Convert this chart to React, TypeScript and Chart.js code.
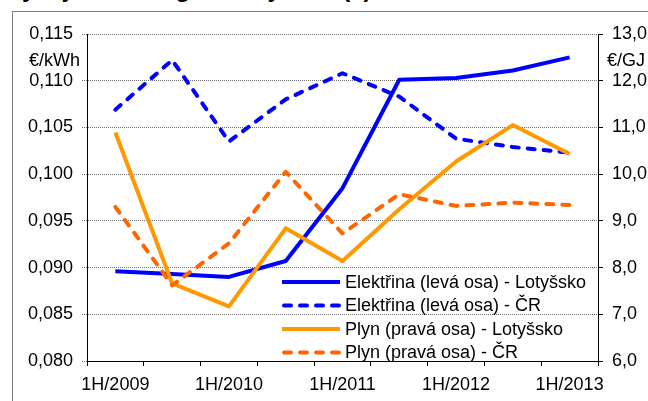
import React, { useEffect, useRef } from 'react';
import { Chart, registerables } from 'chart.js';

Chart.register(...registerables);

const categories = ['1H/2009', '2H/2009', '1H/2010', '2H/2010', '1H/2011', '2H/2011', '1H/2012', '2H/2012', '1H/2013'];
const elektrinaLotyssko = [0.0896, 0.0893, 0.0890, 0.0907, 0.0985, 0.1101, 0.1103, 0.1111, 0.1125];
const elektrinaCR = [0.1069, 0.1122, 0.1035, 0.1080, 0.1108, 0.1083, 0.1038, 0.1029, 0.1023];
const plynLotyssko = [10.89, 7.66, 7.17, 8.84, 8.14, 9.25, 10.27, 11.05, 10.43];
const plynCR = [9.30, 7.62, 8.52, 10.05, 8.73, 9.57, 9.32, 9.39, 9.34];

const seriesLabels = [
  'Elektřina (levá osa) - Lotyšsko',
  'Elektřina (levá osa) - ČR',
  'Plyn (pravá osa) - Lotyšsko',
  'Plyn (pravá osa) - ČR',
];
const seriesColors = ['#0000FF', '#0000FF', '#FF9900', '#FF6600'];
const seriesDashed = [false, true, false, true];

const title = 'Vývoj cen energií v Lotyšsku (€)';
const leftUnit = '€/kWh';
const rightUnit = '€/GJ';

const FONT = '"Liberation Sans", Arial, Helvetica, sans-serif';
const DASH = [7, 9];

const overlayPlugin = {
  id: 'overlay',
  afterDraw(chart: any) {
    const { ctx, chartArea } = chart;
    ctx.save();
    ctx.font = `18px ${FONT}`;
    ctx.fillStyle = '#000';
    ctx.textBaseline = 'middle';
    ctx.textAlign = 'right';
    ctx.fillText(leftUnit, chartArea.left - 7, chartArea.top + 27);
    ctx.textAlign = 'left';
    ctx.fillText(rightUnit, chartArea.right + 9, chartArea.top + 27);
    const x0 = chartArea.left + 195;
    const y0 = chartArea.bottom - 79;
    seriesLabels.forEach((label, i) => {
      const y = y0 + i * 23.5;
      ctx.save();
      ctx.beginPath();
      ctx.strokeStyle = seriesColors[i];
      ctx.lineWidth = 4;
      ctx.lineCap = seriesDashed[i] ? 'round' : 'butt';
      ctx.setLineDash(seriesDashed[i] ? DASH : []);
      ctx.moveTo(x0 + (seriesDashed[i] ? 2 : 0), y);
      ctx.lineTo(x0 + 58, y);
      ctx.stroke();
      ctx.restore();
      ctx.fillStyle = '#000';
      ctx.textAlign = 'left';
      ctx.fillText(label, x0 + 63, y + 1);
    });
    ctx.restore();
  },
};

export default function App() {
  const canvasRef = useRef<HTMLCanvasElement | null>(null);

  useEffect(() => {
    const canvas = canvasRef.current;
    if (!canvas) return;
    const mk = (i: number, data: number[], axis: string) => ({
      label: seriesLabels[i],
      data,
      yAxisID: axis,
      borderColor: seriesColors[i],
      backgroundColor: seriesColors[i],
      borderWidth: 4,
      borderDash: seriesDashed[i] ? DASH : [],
      borderCapStyle: seriesDashed[i] ? 'round' : 'butt',
      borderJoinStyle: 'round',
      pointRadius: 0,
      pointHoverRadius: 0,
      tension: 0,
      fill: false,
    });
    const chart = new Chart(canvas, {
      type: 'line',
      data: {
        labels: categories,
        datasets: [
          mk(3, plynCR, 'y2'),
          mk(2, plynLotyssko, 'y2'),
          mk(1, elektrinaCR, 'y'),
          mk(0, elektrinaLotyssko, 'y'),
        ] as any,
      },
      options: {
        responsive: false,
        animation: false,
        events: [],
        layout: { padding: { top: 34, left: 0, right: 0, bottom: 0 } },
        plugins: {
          legend: { display: false },
          tooltip: { enabled: false },
          title: { display: false },
        },
        scales: {
          x: {
            type: 'category',
            offset: true,
            grid: {
              display: true,
              offset: true,
              drawOnChartArea: false,
              drawTicks: true,
              tickLength: 5,
              tickColor: '#000',
              color: '#000',
            },
            border: { display: true, color: '#000', width: 1 },
            ticks: {
              autoSkip: false,
              maxRotation: 0,
              minRotation: 0,
              padding: 8,
              color: '#000',
              font: { family: FONT, size: 18 },
              callback: (_v: any, i: number) => (i % 2 === 0 ? categories[i] : ''),
            },
            afterFit: (s: any) => { s.height = 40; },
          },
          y: {
            type: 'linear',
            position: 'left',
            min: 0.08,
            max: 0.115,
            grid: {
              color: '#6f6f6f',
              drawOnChartArea: true,
              drawTicks: true,
              tickLength: 5,
              tickColor: '#6f6f6f',
              tickBorderDash: [1, 1],
            },
            border: { display: true, color: '#000', width: 1, dash: [1, 1] },
            ticks: {
              stepSize: 0.005,
              padding: 9,
              color: '#000',
              font: { family: FONT, size: 18 },
              callback: (v: any) => Number(v).toFixed(3).replace('.', ','),
            },
            afterFit: (s: any) => { s.width = 87; },
          },
          y2: {
            type: 'linear',
            position: 'right',
            min: 6,
            max: 13,
            grid: {
              drawOnChartArea: false,
              drawTicks: true,
              tickLength: 5,
              tickColor: '#000',
            },
            border: { display: true, color: '#000', width: 1 },
            ticks: {
              stepSize: 1,
              padding: 9,
              color: '#000',
              font: { family: FONT, size: 18 },
              callback: (v: any) => Number(v).toFixed(1).replace('.', ','),
            },
            afterFit: (s: any) => { s.width = 50; },
          },
        },
      } as any,
      plugins: [overlayPlugin],
    });
    return () => chart.destroy();
  }, []);

  return (
    <div style={{ position: 'fixed', left: 0, top: 0, width: 648, height: 401, overflow: 'hidden', background: '#fff' }}>
      <div
        style={{
          position: 'absolute',
          left: 12,
          top: 11,
          width: 800,
          height: 600,
          borderLeft: '1px solid #7f7f7f',
          borderTop: '1px solid #7f7f7f',
        }}
      />
      <div
        style={{
          position: 'absolute',
          left: 6,
          top: -23,
          fontFamily: FONT,
          fontWeight: 'bold',
          fontSize: 24,
          lineHeight: '24px',
          whiteSpace: 'nowrap',
          color: '#000',
        }}
      >
        {title}
      </div>
      <canvas
        ref={canvasRef}
        width={648}
        height={401}
        style={{ position: 'absolute', left: 0, top: 0, width: 648, height: 401 }}
      />
    </div>
  );
}
